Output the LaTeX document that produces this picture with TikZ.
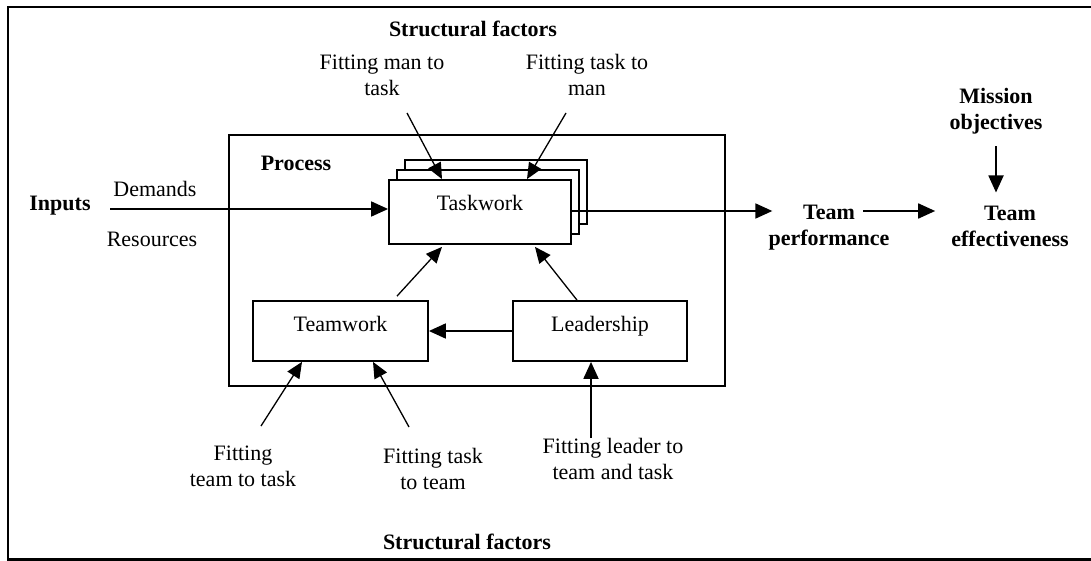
\documentclass[tikz,border=0pt]{standalone}
\usepackage{fontspec}
\setmainfont{Liberation Serif}
\usetikzlibrary{arrows.meta,calc}
\begin{document}
\begin{tikzpicture}[x=1pt,y=-1pt,
  font=\fontsize{22}{26}\selectfont,
  box/.style={draw, line width=1.8pt, fill=white, inner sep=0pt},
  lbl/.style={align=center, inner sep=0pt},
  bl/.style={lbl, font=\fontsize{22}{26}\selectfont\bfseries},
  arr/.style={-{Triangle[length=17pt,width=15pt]}, line width=1.8pt},
  darr/.style={-{Triangle[length=16pt,width=14pt]}, line width=1.3pt},
]
\useasboundingbox (0,0) rectangle (1091,561);
\fill[white] (0,0) rectangle (1091,561);
% outer frame
\draw[line width=2.5pt] (1092,7) -- (8,7) -- (8,559.5) -- (1092,559.5);

% process box
\node[box, fill=none, minimum width=496pt, minimum height=251pt] (proc) at (477,260.5) {};
\node[bl] (proclbl) at (296,163) {Process};

% taskwork stack
\node[box, minimum width=182pt, minimum height=64pt] (task3) at (496,192) {};
\node[box, minimum width=182pt, minimum height=64pt] (task2) at (488,202) {};
\node[box, minimum width=182pt, minimum height=64pt,
      label={[yshift=9pt]center:Taskwork}] (task) at (480,212) {};

% teamwork / leadership
\node[box, minimum width=175pt, minimum height=60pt,
      label={[yshift=7pt]center:Teamwork}] (team) at (340.5,331) {};
\node[box, minimum width=174pt, minimum height=60pt,
      label={[yshift=5pt]center:Leadership}] (lead) at (600,331) {};

% inputs
\node[bl] (inputs) at (60,206) {Inputs};
\node[lbl] (dem) at (155,189) {Demands};
\node[lbl] (res) at (152,239) {Resources};
\coordinate (inS) at (110,209);
\draw[arr] (inS) -- (inS -| task.west);

% outputs
\node[bl] (perf) at (829,228) {Team\\performance};
\node[bl] (eff) at (1010,226) {Team\\effectiveness};
\node[bl] (mis) at (996,111) {Mission\\objectives};
\draw[arr] ([yshift=1pt]task.east) -- ([xshift=4pt,yshift=17pt]perf.west);
\draw[arr] ([xshift=-26.5pt,yshift=17pt]perf.east) -- ([xshift=-16pt,yshift=15pt]eff.west);
\draw[arr, shorten <=12pt, shorten >=13pt] (mis.south) -- (mis.south |- eff.north);

% structural factors
\node[bl] (sftop) at (473,29) {Structural factors};
\node[bl] (sfbot) at (467,542) {Structural factors};

% top fitting labels
\node[lbl] (fmt) at (382,75) {Fitting man to\\task};
\node[lbl] (ftm) at (587,75) {Fitting task to\\man};
\coordinate (t1) at (407,113);
\coordinate (t2) at (566,113);
\draw[darr] (t1) -- ([xshift=-38pt]task.north);
\draw[darr] (t2) -- ([xshift=47pt]task.north);

% internal arrows
\draw[darr] ([xshift=56.5pt,yshift=4pt]team.north) -- ([xshift=-38pt,yshift=-2pt]task.south);
\draw[darr] ([xshift=-23pt]lead.north) -- ([xshift=55pt,yshift=-2pt]task.south);
\draw[arr] (lead.west) -- (team.east);

% bottom fitting labels
\node[lbl] (ftt) at (243,466) {Fitting\\team to task};
\node[lbl] (ftk) at (433,469) {Fitting task\\to team};
\node[lbl] (fl) at (613,459) {Fitting leader to\\team and task};
\coordinate (b1) at (261,426);
\coordinate (b2) at (409,427);
\coordinate (b3) at (591,438);
\draw[darr] (b1) -- ([xshift=-38.5pt]team.south);
\draw[darr] (b2) -- ([xshift=32.5pt]team.south);
\draw[arr] (b3) -- (b3 |- lead.south);
\end{tikzpicture}
\end{document}
